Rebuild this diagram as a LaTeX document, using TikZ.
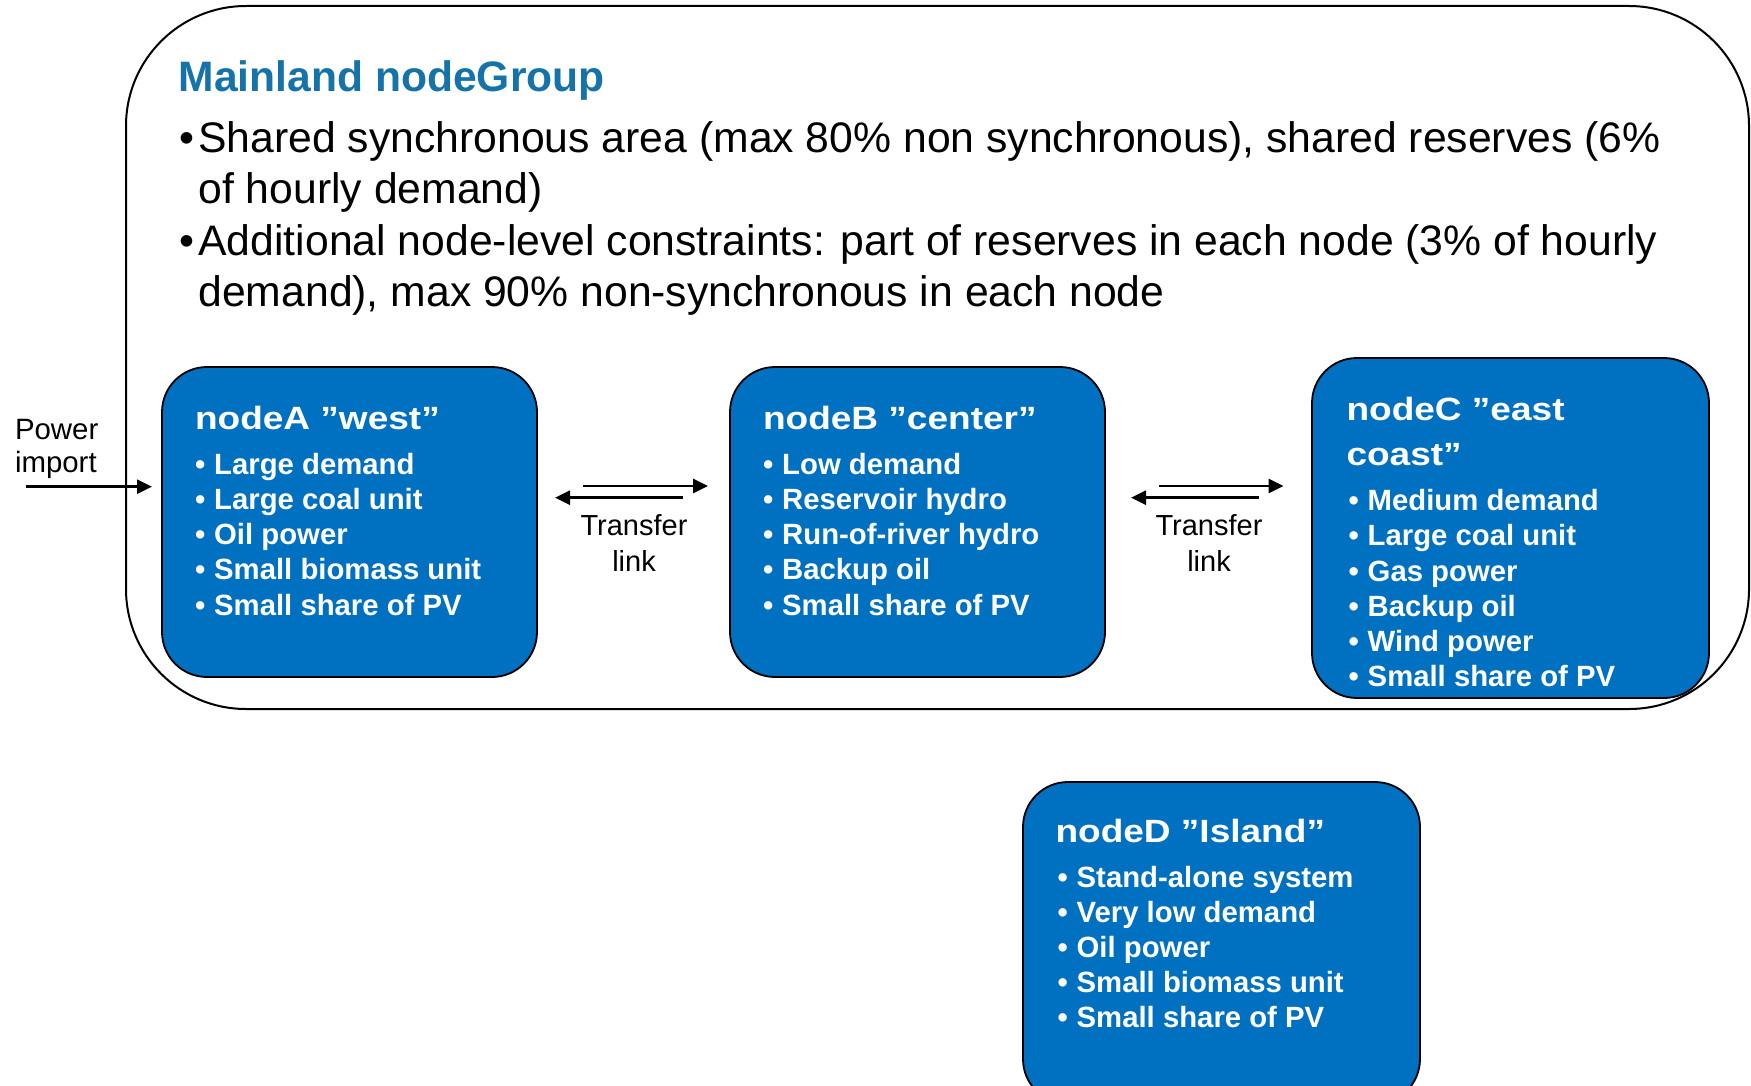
\documentclass[tikz,border=0pt]{standalone}
\usepackage{fontspec}
\setmainfont{Liberation Sans}
\newfontfamily\ttlfont[FakeStretch=1.15]{Liberation Sans}
\usetikzlibrary{arrows.meta}
\definecolor{nodeblue}{HTML}{0070C0}
\definecolor{titleblue}{HTML}{1673AA}
\newcommand\itm[1]{\makebox[9.6pt][l]{•}#1}
\begin{document}
\begin{tikzpicture}[x=0.5pt,y=-0.5pt,
  txt/.style={anchor=base west, inner sep=0, outer sep=0},
  ctxt/.style={anchor=base, inner sep=0, outer sep=0, font=\fontsize{14.5pt}{17pt}\selectfont},
  ltxt/.style={txt, font=\fontsize{14.7pt}{17pt}\selectfont},
  maintxt/.style={txt, font=\fontsize{21.35pt}{25pt}\selectfont},
  heading/.style={txt, font=\fontsize{21.3pt}{25pt}\selectfont\bfseries, text=titleblue},
  ntitle/.style={txt, text=white, font=\ttlfont\fontsize{16.1pt}{19pt}\selectfont\bfseries},
  item/.style={txt, text=white, font=\fontsize{14.65pt}{17pt}\selectfont\bfseries},
  group/.style={draw=black, line width=1pt, rounded corners=60pt, anchor=north west, inner sep=0, outer sep=0},
  nodebox/.style={draw=black, line width=0.9pt, fill=nodeblue, rounded corners=22.5pt, anchor=north west, inner sep=0, outer sep=0},
  arr/.style={line width=1.3pt, -{Triangle[length=7.5pt,width=7pt]}}
]
\useasboundingbox (0,0) rectangle (1751,1086);

% outer group
\node[group, minimum width=811.5pt, minimum height=351.5pt] (G) at (126,6) {};

\node[heading] (gtitle) at (178.7,91.7) {Mainland nodeGroup};
\node[maintxt] (gb1) at (179.5,152.7) {•};
\node[maintxt] (gl1) at (198.5,152.7) {Shared synchronous area (max 80\% non synchronous), shared reserves (6\%};
\node[maintxt] (gl2) at (198.5,204) {of hourly demand)};
\node[maintxt] (gb2) at (179.5,255) {•};
\node[maintxt] (gl3) at (198.5,255) {Additional node-level constraints: part of reserves in each node (3\% of hourly};
\node[maintxt] (gl4) at (198.5,306.7) {demand), max 90\% non-synchronous in each node};

% node boxes
\node[nodebox, minimum width=187.5pt, minimum height=155pt] (A) at (162,367) {};
\node[nodebox, minimum width=187.5pt, minimum height=155pt] (B) at (730,367) {};
\node[nodebox, minimum width=198.5pt, minimum height=170pt] (C) at (1312,358) {};
\node[nodebox, minimum width=198.5pt, minimum height=161pt] (D) at (1023,782) {};

% node A
\node[ntitle] (At) at (195,429.3) {nodeA ”west”};
\foreach \t [count=\i] in {Large demand, Large coal unit, Oil power, Small biomass unit, Small share of PV}
  \node[item] (A\i) at (195,{474+35.3*(\i-1)}) {\itm{\t}};

% node B
\node[ntitle] (Bt) at (763,429.3) {nodeB ”center”};
\foreach \t [count=\i] in {Low demand, Reservoir hydro, Run-of-river hydro, Backup oil, Small share of PV}
  \node[item] (B\i) at (763,{474+35.3*(\i-1)}) {\itm{\t}};

% node C
\node[ntitle] (Ct1) at (1346.5,420.7) {nodeC ”east};
\node[ntitle] (Ct2) at (1346.5,465) {coast”};
\foreach \t [count=\i] in {Medium demand, Large coal unit, Gas power, Backup oil, Wind power, Small share of PV}
  \node[item] (C\i) at (1348.5,{510.7+35.2*(\i-1)}) {\itm{\t}};

% node D
\node[ntitle] (Dt) at (1055.5,842.7) {nodeD ”Island”};
\foreach \t [count=\i] in {Stand-alone system, Very low demand, Oil power, Small biomass unit, Small share of PV}
  \node[item] (D\i) at (1057.5,{887.7+34.9*(\i-1)}) {\itm{\t}};

% power import
\node[ltxt] (pw1) at (15,439) {Power};
\node[ltxt] (pw2) at (15,472) {import};
\coordinate (pi) at (26,486.7);
\draw[arr, shorten >=5pt] (pi) -- (pi -| A.west);

% transfer links
\coordinate (yU) at (0,486);
\coordinate (yL) at (0,497.7);
\draw[arr, shorten <=23pt, shorten >=11pt] (A.east |- yU) -- (B.west |- yU);
\draw[arr, shorten <=23.5pt, shorten >=9pt] (B.west |- yL) -- (A.east |- yL);
\node[ctxt] (t1a) at (634,535) {Transfer};
\node[ctxt] (t1b) at (634,571) {link};

\draw[arr, shorten <=26.8pt, shorten >=14.2pt] (B.east |- yU) -- (C.west |- yU);
\draw[arr, shorten <=26.7pt, shorten >=13pt] (C.west |- yL) -- (B.east |- yL);
\node[ctxt] (t2a) at (1209,535) {Transfer};
\node[ctxt] (t2b) at (1209,571) {link};
\end{tikzpicture}
\end{document}
